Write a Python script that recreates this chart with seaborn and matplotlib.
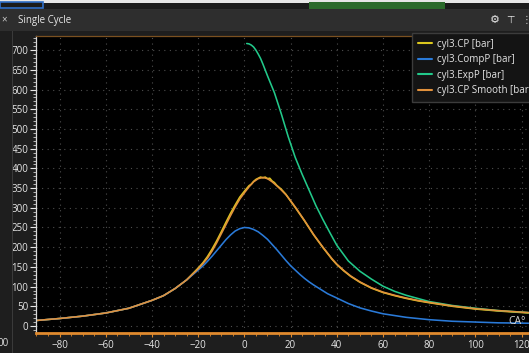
import numpy as np
import pandas as pd
import matplotlib
matplotlib.use("Agg")
import matplotlib.pyplot as plt
from matplotlib.patches import Rectangle
from matplotlib.ticker import MultipleLocator
import seaborn as sns

# ---------------- data ----------------
comp_ca = [-90, -80, -70, -60, -50, -45, -40, -35, -30, -25, -20, -18, -16, -14, -12, -10,
           -8, -6, -4, -2, 0, 2, 4, 6, 8, 10, 12, 14, 16, 18, 20, 22, 24, 26, 28, 30, 33, 36,
           40, 45, 50, 55, 60, 70, 80, 90, 100, 110, 123]
comp_p = [14, 19, 25, 33, 45, 55, 65, 77, 95, 117, 142, 152, 164, 177, 191, 205,
          219, 231, 241, 247, 250, 249, 245, 239, 230, 220, 207, 194, 180, 166, 153, 142,
          131, 121, 112, 104, 93, 82, 71, 57, 46, 38, 31, 22, 16, 12, 10, 8, 7]

exp_ca = [1, 2, 3, 4, 5, 6, 7, 8, 10, 13, 16, 19, 22, 25, 28, 31, 34, 37, 40, 45, 50, 55,
          60, 65, 70, 80, 90, 100, 110, 123]
exp_p = [717, 716, 713, 708, 700, 690, 679, 665, 635, 592, 538, 480, 428, 385, 345, 305,
         270, 237, 205, 165, 139, 119, 101, 88, 78, 62, 52, 45, 39, 34]

cp_ca = [-90, -80, -70, -60, -50, -45, -40, -35, -30, -25, -20, -18, -16, -14, -12, -10,
         -8, -6, -4, -2, 0, 2, 3, 4, 5, 6, 7, 8, 9, 10, 11, 12, 13, 14, 16, 18, 20, 22, 24,
         26, 28, 30, 32, 34, 36, 38, 40, 43, 46, 50, 55, 60, 65, 70, 75, 80, 90, 100, 110,
         123]
cp_p = [14, 19, 25, 33, 45, 55, 65, 77, 95, 117, 147, 160, 176, 195, 216, 239,
        263, 286, 307, 327, 342, 356, 360, 367, 372, 375, 378, 376, 378, 374, 375, 368,
        364, 357, 347, 334, 317, 301, 284, 267, 249, 231, 215, 199, 184, 169, 156, 140,
        126, 111, 96, 85, 77, 70, 64, 59, 50, 43, 38, 33]

sm_ca = [-90, -80, -70, -60, -50, -45, -40, -35, -30, -25, -20, -18, -16, -14, -12, -10,
         -8, -6, -4, -2, 0, 2, 4, 6, 8, 10, 12, 14, 16, 18, 20, 22, 24, 26, 28, 30, 32, 34,
         36, 38, 40, 43, 46, 50, 55, 60, 65, 70, 75, 80, 90, 100, 110, 123]
sm_p = [14, 19, 25, 33, 45, 55, 65, 77, 95, 117, 145, 158, 172, 190, 211, 234,
        257, 280, 302, 322, 338, 353, 366, 374, 377, 374, 366, 356, 345, 333, 318, 302,
        285, 268, 250, 232, 216, 200, 185, 170, 157, 141, 127, 112, 97, 86, 78, 71, 65, 60,
        51, 44, 39, 34]

series_names = ["cyl3.CP [bar]", "cyl3.CompP [bar]", "cyl3.ExpP [bar]", "cyl3.CP Smooth [bar]"]
series_colors = ["#dcc81e", "#2a7ad8", "#22c98a", "#e2913c"]
x_ticks = [-80, -60, -40, -20, 0, 20, 40, 60, 80, 100, 120]
y_ticks = [0, 50, 100, 150, 200, 250, 300, 350, 400, 450, 500, 550, 600, 650, 700]

# ---------------- style ----------------
sns.set_theme(style="dark")
plt.rcParams["font.family"] = ["Open Sans", "DejaVu Sans"]

W, H = 529, 353
fig = plt.figure(figsize=(W / 100, H / 100), dpi=100, facecolor="#1e1e1e")

def px_rect(x0, y0, x1, y1, **kw):
    fig.patches.append(Rectangle((x0 / W, 1 - y1 / H), (x1 - x0) / W, (y1 - y0) / H,
                                 transform=fig.transFigure, figure=fig, **kw))

# top strip and title bar
px_rect(0, 0, W, 3, facecolor="#e6e6e6", edgecolor="none")
px_rect(0, 3, W, 9, facecolor="#1b1b1b", edgecolor="none")
px_rect(0, 2, 43, 8, facecolor="#1b1b1b", edgecolor="#2f6fc8", linewidth=1.2)
px_rect(309, 2, 445, 9, facecolor="#2b6a2b", edgecolor="none")
px_rect(0, 9, W, 31, facecolor="#2e2e2e", edgecolor="none")
px_rect(12, 31, 13, H, facecolor="#3a3a3a", edgecolor="none")
fig.text(18 / W, 1 - 20 / H, "Single Cycle", color="#e8e8e8", fontsize=7,
         va="center", ha="left")
fig.text(1 / W, 1 - 20 / H, "×", color="#cfcfcf", fontsize=7, va="center", ha="left")
fig.text(495 / W, 1 - 20 / H, "⚙", color="#e8e8e8", fontsize=8, va="center", ha="center",
         family=["DejaVu Sans"])
fig.text(510 / W, 1 - 20 / H, "⊤", color="#e8e8e8", fontsize=7, va="center", ha="center",
         family=["DejaVu Sans"])
fig.text(526 / W, 1 - 20 / H, "⋮", color="#cfcfcf", fontsize=7, va="center", ha="center",
         family=["DejaVu Sans"])
fig.text(9 / W, 1 - 343 / H, "00", color="#dcdcdc", fontsize=7, va="center", ha="right")

# axes
ax_left, ax_top, ax_bottom = 36, 36, 333
ax = fig.add_axes([ax_left / W, 1 - ax_bottom / H, (W - ax_left) / W, (ax_bottom - ax_top) / H])
ax.set_facecolor("#000000")

xs = [cp_ca, comp_ca, exp_ca, sm_ca]
ys = [cp_p, comp_p, exp_p, sm_p]
for name, col, xv, yv in zip(series_names, series_colors, xs, ys):
    df = pd.DataFrame({"CA": xv, "p": yv})
    sns.lineplot(data=df, x="CA", y="p", ax=ax, color=col, linewidth=1.15,
                 label=name, estimator=None, sort=True)

ax.set_xlim(-90.2, 123.2)
ax.set_ylim(-17.8, 736)
ax.set_xticks(x_ticks)
ax.set_yticks(y_ticks)
ax.xaxis.set_minor_locator(MultipleLocator(5))
ax.yaxis.set_minor_locator(MultipleLocator(10))
ax.set_xlabel("")
ax.set_ylabel("")

ax.grid(True, which="major", color="#4e4e4e", linestyle=(0, (1, 4)), linewidth=0.8)
ax.tick_params(axis="y", which="major", colors="#e6e6e6", length=4.5, width=0.8,
               labelsize=7, pad=1, direction="out", left=True)
ax.tick_params(axis="y", which="minor", colors="#cfcfcf", length=2.2, width=0.6, left=True)
ax.tick_params(axis="x", which="major", colors="#e08a2e", labelcolor="#e6e6e6", length=3,
               width=0.8, labelsize=7, pad=2, direction="out", bottom=True)
ax.tick_params(axis="x", which="minor", colors="#e08a2e", length=2, width=0.6, bottom=True)

for s in ax.spines.values():
    s.set_visible(True)
ax.spines["right"].set_visible(False)
ax.spines["left"].set_color("#d8d8d8")
ax.spines["left"].set_linewidth(0.9)
ax.spines["bottom"].set_color("#e08a2e")
ax.spines["bottom"].set_linewidth(2)
ax.spines["top"].set_color("#7a5020")
ax.spines["top"].set_linewidth(0.9)

ax.text((508 - ax_left) / (W - ax_left), (ax_bottom - 322) / (ax_bottom - ax_top), "CA°",
        transform=ax.transAxes, color="#d8d8d8", fontsize=7.5, va="center", ha="left")

leg = ax.legend(loc="upper left", bbox_to_anchor=(412 / W, 1 - 33 / H),
                bbox_transform=fig.transFigure, fontsize=7, frameon=True,
                labelspacing=0.45, handlelength=1.5, handletextpad=0.45,
                borderpad=0.6, borderaxespad=0, fancybox=False)
leg.get_frame().set_facecolor("#141414")
leg.get_frame().set_edgecolor("#3c3c3c")
leg.get_frame().set_alpha(1)
for t in leg.get_texts():
    t.set_color("#e6e6e6")
for h in leg.get_lines():
    h.set_linewidth(1.5)

fig.savefig("out.png", dpi=100, facecolor=fig.get_facecolor())
